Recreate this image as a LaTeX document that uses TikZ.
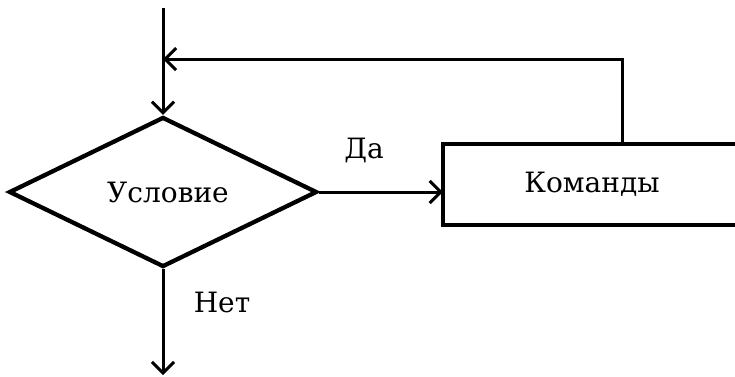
\documentclass[tikz,border=0pt]{standalone}
\usepackage{fontspec}
\setmainfont{DejaVu Serif}
\usetikzlibrary{shapes.geometric,arrows.meta,calc}
\begin{document}
\begin{tikzpicture}[x=1pt,y=-1pt,
  conn/.style={line width=3pt,-{Straight Barb[length=11pt,width=22pt,line width=3pt]}},
  shapeline/.style={line width=4.3pt},
  lbl/.style={inner sep=0pt,font=\fontsize{28}{32}\selectfont}]
\useasboundingbox (0,0) rectangle (735,376);
\node[draw,shapeline,diamond,aspect=2.05,inner sep=0pt,minimum width=308pt,minimum height=150pt,
  font=\fontsize{28}{32}\selectfont] (cond) at (163,192) {\hspace{10pt}Условие};
\node[minimum width=298pt,minimum height=81pt,inner sep=0pt,
  font=\fontsize{28}{32}\selectfont] (cmd) at (592,184.5) {Команды};
\draw[shapeline] (cmd.north east) -- (cmd.north west) -- (cmd.south west) -- (cmd.south east);
\coordinate (start) at (163,8);
\coordinate (stop) at (163,375);
\coordinate (join) at (163,59);
\coordinate (rise) at (622,144);
\draw[conn] (start) -- (cond.north);
\draw[conn] (cond.east) -- (cond.east -| cmd.west);
\draw[conn] (cond.south) -- (stop);
\draw[conn] (rise) |- (join);
\node[lbl] (yes) at (364,150) {Да};
\node[lbl] (no) at (222,302) {Нет};
\end{tikzpicture}
\end{document}
